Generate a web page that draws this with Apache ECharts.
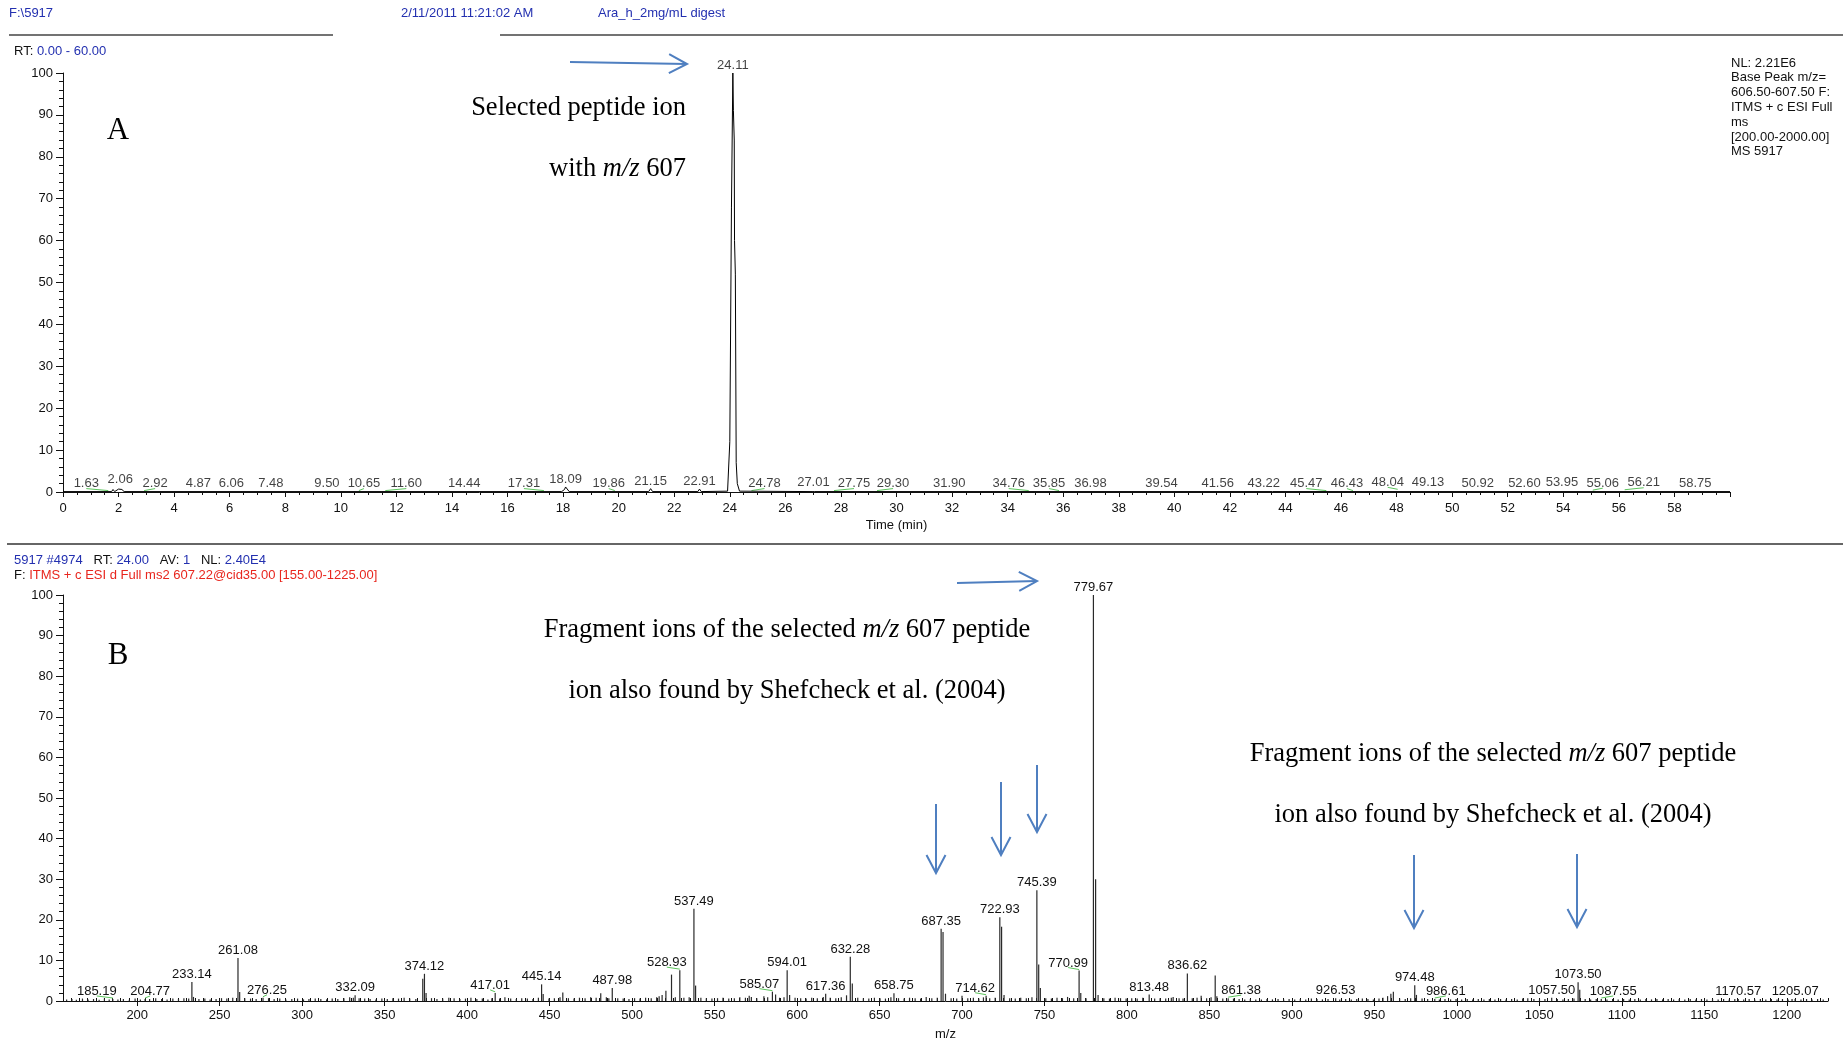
<!DOCTYPE html>
<html>
<head>
<meta charset="utf-8">
<title>Ara h 2 digest – chromatogram and MS2 spectrum</title>
<script src="https://cdn.jsdelivr.net/npm/echarts@6/dist/echarts.min.js"></script>
<style>
  html, body { margin: 0; padding: 0; background: #fff; }
  #c { width: 1843px; height: 1043px; }
</style>
</head>
<body>
<div id="c"></div>
<script>
// ---------- Panel A: base peak chromatogram (m/z 606.50-607.50) ----------
const rtTrace  = [0, 1.75, 1.80, 1.86, 1.92, 2.00, 2.06, 2.12, 2.20, 17.95, 18.05, 18.09, 18.13, 18.22,
                  21.08, 21.15, 21.22, 22.85, 22.91, 22.97, 23.92, 23.96, 24.00, 24.06, 24.11, 24.13,
                  24.16, 24.17, 24.20, 24.23, 24.27, 24.35, 26.96, 27.01, 27.06, 60];
const intTrace = [0.1, 0.1, 0.6, 0.1, 0.4, 0.7, 0.9, 0.6, 0.1, 0.1, 0.6, 1.2, 0.8, 0.1,
                  0.1, 0.8, 0.1, 0.1, 0.7, 0.1, 0.2, 0.6, 12, 68, 100, 91,
                  84, 60, 52, 7, 2, 0.2, 0.1, 0.4, 0.1, 0.1];

// retention times printed above the trace
const rtLabels = [1.63, 2.06, 2.92, 4.87, 6.06, 7.48, 9.50, 10.65, 11.60, 14.44, 17.31, 18.09, 19.86,
                  21.15, 22.91, 24.11, 24.78, 27.01, 27.75, 29.30, 31.90, 34.76, 35.85, 36.98, 39.54,
                  41.56, 43.22, 45.47, 46.43, 48.04, 49.13, 50.92, 52.60, 53.95, 55.06, 56.21, 58.75];
const rtLabelInt = [0.1, 1.1, 0.1, 0.1, 0.1, 0.1, 0.1, 0.1, 0.1, 0.1, 0.1, 1.2, 0.1,
                    0.6, 0.5, 100, 0.1, 0.3, 0.1, 0.1, 0.1, 0.1, 0.1, 0.1, 0.1,
                    0.1, 0.1, 0.1, 0.1, 0.4, 0.3, 0.1, 0.2, 0.4, 0.2, 0.3, 0.1];

// ---------- Panel B: MS2 spectrum of m/z 607.22 ----------
const mzLabeled  = [185.19, 204.77, 233.14, 261.08, 276.25, 332.09, 374.12, 417.01, 445.14, 487.98,
                    528.93, 537.49, 585.07, 594.01, 617.36, 632.28, 658.75, 687.35, 714.62, 722.93,
                    745.39, 770.99, 779.67, 813.48, 836.62, 861.38, 926.53, 974.48, 986.61, 1057.50,
                    1073.50, 1087.55, 1170.57, 1205.07];
const intLabeled = [0.5, 0.5, 4.7, 10.6, 0.8, 1.4, 6.7, 2.0, 4.1, 3.2,
                    7.6, 22.7, 2.3, 7.6, 1.8, 10.9, 1.9, 17.8, 1.3, 20.6,
                    27.3, 7.5, 100, 1.6, 6.8, 0.7, 0.7, 3.9, 0.5, 0.8,
                    4.6, 0.5, 0.5, 0.5];

// unlabelled fragment and noise sticks [m/z, relative abundance]
const minorPeaks = [
  [157.2,0.4],[160.4,0.5],[163.1,0.3],[166.8,0.6],[170.2,0.4],[173.5,0.5],[176.9,0.3],[180.1,0.6],[183.0,0.4],
  [188.3,0.4],[191.6,0.5],[195.2,0.3],[198.7,0.6],[201.9,0.4],[207.5,0.5],[211.2,0.7],[214.8,0.5],[218.1,0.4],
  [221.6,0.6],[225.0,0.5],[228.3,0.7],[231.2,0.6],[234.1,1.0],[237.4,0.5],[241.0,0.6],[244.2,0.4],[247.8,0.5],
  [251.1,0.7],[254.3,0.6],[257.9,0.8],[262.1,2.2],[265.2,0.7],[268.7,0.6],[272.1,0.5],[279.6,0.7],[283.0,0.5],
  [286.4,0.6],[290.1,0.4],[293.7,0.5],[297.2,0.6],[300.8,0.4],[304.1,0.5],[307.9,0.6],[311.3,0.5],[314.8,0.4],
  [318.2,0.6],[321.6,0.5],[325.3,0.7],[328.8,0.9],[331.0,0.8],[334.5,0.7],[337.9,0.6],[341.2,0.5],[344.7,0.4],
  [348.3,0.6],[351.6,0.5],[355.0,0.7],[358.4,0.6],[361.8,0.8],[365.2,0.6],[368.9,0.5],[373.1,5.5],[375.1,2.0],
  [378.4,0.7],[381.7,0.5],[385.2,0.6],[388.9,0.8],[392.1,0.7],[395.6,0.5],[399.0,0.6],[402.3,0.8],[405.9,0.5],
  [409.2,0.6],[412.6,0.4],[415.0,0.7],[419.7,0.6],[422.9,0.9],[426.4,0.6],[429.8,0.5],[433.1,0.7],[436.5,0.6],
  [439.9,0.5],[443.2,0.8],[446.1,1.7],[449.6,0.6],[452.9,0.7],[456.3,0.9],[458.0,2.1],[461.4,0.7],[464.8,0.6],
  [468.1,0.8],[471.5,0.7],[474.9,0.9],[478.2,0.8],[481.0,1.9],[484.4,0.9],[485.9,0.7],[491.3,0.7],[494.6,0.6],
  [498.1,0.5],[501.5,0.7],[504.8,0.6],[508.2,0.8],[511.6,0.7],[514.9,0.9],[516.4,1.2],[518.2,1.5],[520.5,2.5],
  [523.9,6.5],[526.2,0.9],[531.4,0.8],[534.6,0.9],[538.5,3.8],[541.7,0.8],[545.0,0.7],[548.4,0.6],[551.8,0.7],
  [555.1,0.8],[558.6,0.6],[562.0,0.7],[565.3,0.9],[568.7,0.8],[571.0,1.3],[572.3,1.0],[575.6,0.7],[579.9,1.2],
  [582.2,0.9],[587.0,1.6],[589.4,0.8],[592.1,0.9],[595.5,1.5],[598.8,0.8],[602.2,0.7],[605.5,0.6],[608.9,0.8],
  [612.3,0.7],[615.9,1.0],[620.1,0.8],[623.5,0.7],[626.8,0.9],[630.0,1.4],[633.5,4.3],[636.8,0.8],[640.2,0.7],
  [643.5,0.6],[646.9,0.8],[650.3,0.7],[653.6,0.6],[656.9,0.9],[661.5,0.7],[664.9,0.6],[668.2,0.8],[671.6,0.7],
  [674.9,0.6],[678.3,1.0],[681.7,0.7],[685.0,0.8],[688.5,17.0],[690.0,1.8],[693.4,0.7],[696.8,0.6],[700.0,1.3],
  [703.5,0.7],[706.9,0.8],[710.2,0.6],[713.0,0.9],[716.8,0.7],[720.1,0.8],[724.0,18.3],[725.5,1.5],[728.9,0.7],
  [732.3,0.6],[735.6,0.8],[739.0,0.7],[742.4,0.9],[746.5,9.0],[747.5,3.2],[750.8,0.7],[754.2,0.6],[757.6,0.8],
  [760.9,0.7],[764.0,1.0],[767.7,0.7],[772.0,2.0],[775.2,0.7],[781.0,30.0],[782.5,1.5],[786.0,0.7],[789.4,0.6],
  [792.8,0.8],[796.1,0.7],[799.5,0.6],[802.9,0.7],[806.2,0.6],[809.6,0.8],[816.8,0.6],[820.1,0.7],[823.5,0.6],
  [826.9,0.8],[828.0,1.0],[831.6,0.7],[834.0,0.6],[839.6,0.7],[842.5,0.8],[845.0,1.3],[848.3,0.7],[851.0,0.9],
  [853.5,6.3],[854.5,1.2],[858.1,0.6],[864.6,0.6],[868.0,0.5],[871.4,0.4],[874.8,0.5],[878.1,0.4],[881.5,0.4],
  [884.9,0.5],[888.2,0.4],[891.6,0.5],[895.0,0.4],[898.3,0.5],[901.7,0.4],[905.1,0.5],[908.4,0.4],[911.8,0.6],
  [915.2,0.5],[918.5,0.4],[921.9,0.5],[929.0,0.4],[932.6,0.5],[936.0,0.4],[939.3,0.5],[942.7,0.6],[946.1,0.5],
  [949.4,0.4],[952.8,0.6],[955.2,0.8],[958.0,1.2],[960.0,1.8],[961.5,2.3],[965.3,0.6],[968.7,0.5],[972.0,0.7],
  [975.5,1.5],[978.9,0.6],[982.3,0.5],[989.4,0.4],[992.8,0.5],[996.2,0.4],[999.5,0.5],[1002.9,0.4],[1006.3,0.5],
  [1009.6,0.4],[1013.0,0.5],[1016.4,0.4],[1019.7,0.5],[1023.1,0.4],[1026.5,0.5],[1029.8,0.4],[1033.2,0.5],
  [1036.6,0.4],[1039.9,0.6],[1043.0,0.7],[1046.7,0.5],[1050.1,0.4],[1053.4,0.5],[1060.9,0.5],[1064.3,0.4],
  [1067.6,0.5],[1071.0,0.6],[1074.5,2.8],[1077.8,0.5],[1081.1,0.4],[1084.5,0.5],[1091.0,0.4],[1094.4,0.5],
  [1097.8,0.4],[1101.1,0.5],[1104.5,0.4],[1107.9,0.5],[1111.2,0.4],[1114.6,0.5],[1118.0,0.4],[1121.3,0.5],
  [1124.7,0.4],[1128.1,0.5],[1131.4,0.4],[1134.8,0.5],[1138.2,0.4],[1141.5,0.5],[1144.9,0.4],[1148.3,0.5],
  [1151.6,0.4],[1155.0,0.5],[1158.4,0.4],[1161.7,0.5],[1165.1,0.4],[1168.5,0.5],[1173.9,0.4],[1177.2,0.5],
  [1180.6,0.4],[1184.0,0.5],[1187.3,0.4],[1190.7,0.5],[1194.1,0.4],[1197.4,0.5],[1200.8,0.4],[1203.2,0.5],
  [1208.6,0.4],[1212.0,0.5],[1215.3,0.4],[1218.7,0.5],[1222.1,0.4]
];

// axis ticks
const mzTicks = [200, 250, 300, 350, 400, 450, 500, 550, 600, 650, 700, 750, 800, 850, 900, 950,
                 1000, 1050, 1100, 1150, 1200];
const mzMinorTicks = [];
for (let v = 160; v <= 1225; v += 5) mzMinorTicks.push(v);

// ---------- label placement (pixel nudges for crowded labels) ----------
const rtNudge = {1.63: -22, 2.92: 11, 10.65: 5, 11.60: 21, 17.31: -20, 19.86: -6, 24.78: 13, 27.75: 20,
                 29.30: 16, 34.76: -20, 35.85: -10, 45.47: -20, 46.43: -6, 48.04: -10, 55.06: 10, 56.21: 19};
const mzNudge = {185.19: -16, 204.77: 5, 276.25: 4, 417.01: -5, 528.93: -13, 585.07: -13, 714.62: -11,
                 770.99: -11, 861.38: 13, 986.61: 11, 1087.55: 12};

// ---------- styles ----------
const SANS = '"Liberation Sans", Arial, sans-serif';
const SERIF = '"Liberation Serif", "Times New Roman", serif';
const BLUE = '#2330b0';
const RED = '#e8261e';
const ARROW = '#4f7fc0';
const GREEN = '#5cc45c';
const INK = '#111';
const SMALL = 13;

function nudgeOf(map, v) { return map[v.toFixed(2)] !== undefined ? map[v.toFixed(2)] : (map[v] || 0); }

const labelStyle = { show: true, position: 'top', distance: 1, color: INK, fontSize: SMALL, fontFamily: SANS };

// chromatogram labels
const rtLabelData = rtLabels.map((t, i) => ({
  value: [t, rtLabelInt[i]],
  label: { offset: [nudgeOf(rtNudge, t), 0] }
}));
const rtConnectors = rtLabels
  .map((t, i) => [t, rtLabelInt[i], nudgeOf(rtNudge, t)])
  .filter(d => Math.abs(d[2]) >= 5);

// spectrum sticks
const stickData = mzLabeled.map((m, i) => ({
  value: [m, intLabeled[i]],
  label: { show: true, offset: [nudgeOf(mzNudge, m), 0] }
})).concat(minorPeaks.map(p => ({ value: p })));
const mzConnectors = mzLabeled
  .map((m, i) => [m, intLabeled[i], nudgeOf(mzNudge, m)])
  .filter(d => Math.abs(d[2]) >= 4);

function connectorSeries(xi, yi, items) {
  return {
    type: 'custom', xAxisIndex: xi, yAxisIndex: yi, silent: true, z: 1,
    data: items,
    encode: { x: 0, y: 1 },
    renderItem(params, api) {
      const p = api.coord([api.value(0), api.value(1)]);
      const dx = api.value(2);
      return {
        type: 'line',
        shape: { x1: p[0], y1: p[1] - 1, x2: p[0] + dx, y2: p[1] - 3 },
        style: { stroke: GREEN, lineWidth: 1 }
      };
    }
  };
}

function yAxisCfg(gi) {
  return {
    type: 'value', gridIndex: gi, min: 0, max: 100, interval: 10,
    axisLine: { show: true, lineStyle: { color: INK, width: 1 } },
    axisTick: { show: true, length: 7, lineStyle: { color: INK } },
    minorTick: { show: true, splitNumber: 5, length: 4, lineStyle: { color: INK } },
    axisLabel: { color: INK, fontSize: SMALL, fontFamily: SANS, margin: 10 },
    splitLine: { show: false }
  };
}

// ---------- annotations ----------
function arrow(x1, y1, x2, y2) {
  const a = Math.atan2(y2 - y1, x2 - x1), L = 18, W = 9.5;
  const bx = x2 - L * Math.cos(a), by = y2 - L * Math.sin(a);
  const nx = -Math.sin(a) * W, ny = Math.cos(a) * W;
  return [
    { type: 'line', shape: { x1, y1, x2, y2 }, style: { stroke: ARROW, lineWidth: 2 } },
    { type: 'polyline', shape: { points: [[bx + nx, by + ny], [x2, y2], [bx - nx, by - ny]] },
      style: { stroke: ARROW, lineWidth: 2, fill: null } }
  ];
}
function txt(x, y, text, opts) {
  return { type: 'text', x, y, silent: true,
    style: Object.assign({ text, fill: INK, fontSize: SMALL, fontFamily: SANS,
                           align: 'left', verticalAlign: 'middle' }, opts || {}) };
}
const serifRich = {
  n: { fontSize: 26.5, fontFamily: SERIF, fill: '#000' },
  i: { fontSize: 26.5, fontFamily: SERIF, fontStyle: 'italic', fill: '#000' }
};
function serifLine(x, y, text, align) {
  return txt(x, y, text, { rich: serifRich, align: align || 'center', fontSize: 26.5, fontFamily: SERIF });
}
const smallRich = {
  b: { fill: BLUE, fontSize: SMALL, fontFamily: SANS },
  k: { fill: INK, fontSize: SMALL, fontFamily: SANS },
  r: { fill: RED, fontSize: SMALL, fontFamily: SANS }
};
const infoLines = ['NL: 2.21E6', 'Base Peak m/z=', '606.50-607.50 F:', 'ITMS + c ESI Full', 'ms',
                   '[200.00-2000.00]', 'MS 5917'];

const graphics = [
  txt(9, 13, 'F:\\5917', { fill: BLUE }),
  txt(401, 13, '2/11/2011 11:21:02 AM', { fill: BLUE }),
  txt(598, 13, 'Ara_h_2mg/mL digest', { fill: BLUE }),
  { type: 'line', shape: { x1: 9, y1: 35, x2: 333, y2: 35 }, style: { stroke: '#444', lineWidth: 1.5 } },
  { type: 'line', shape: { x1: 500, y1: 35, x2: 1843, y2: 35 }, style: { stroke: '#444', lineWidth: 1.5 } },
  txt(14, 51, '{k|RT:} {b|0.00 - 60.00}', { rich: smallRich }),
  { type: 'line', shape: { x1: 7, y1: 544, x2: 1843, y2: 544 }, style: { stroke: '#666', lineWidth: 2 } },
  txt(14, 560, '{b|5917 #4974}   {k|RT:} {b|24.00}   {k|AV:} {b|1}   {k|NL:} {b|2.40E4}', { rich: smallRich }),
  txt(14, 575, '{k|F:} {r|ITMS + c ESI d Full ms2 607.22@cid35.00 [155.00-1225.00]}', { rich: smallRich }),
  txt(118, 131, 'A', { fontSize: 31, fontFamily: SERIF, align: 'center', fill: '#000' }),
  txt(118, 656, 'B', { fontSize: 31, fontFamily: SERIF, align: 'center', fill: '#000' }),
  serifLine(686, 108, '{n|Selected peptide ion}', 'right'),
  serifLine(686, 169, '{n|with }{i|m/z}{n| 607}', 'right'),
  serifLine(787, 630, '{n|Fragment ions of the selected }{i|m/z}{n| 607 peptide}'),
  serifLine(787, 691, '{n|ion also found by Shefcheck et al. (2004)}'),
  serifLine(1493, 754, '{n|Fragment ions of the selected }{i|m/z}{n| 607 peptide}'),
  serifLine(1493, 815, '{n|ion also found by Shefcheck et al. (2004)}')
].concat(
  infoLines.map((s, i) => txt(1731, 63 + i * 14.8, s)),
  arrow(570, 62, 687, 64),
  arrow(957, 583, 1037, 581),
  arrow(936, 804, 936, 873),
  arrow(1001, 782, 1001, 855),
  arrow(1037, 765, 1037, 832),
  arrow(1414, 855, 1414, 928),
  arrow(1577, 854, 1577, 927)
);

const option = {
  animation: false,
  backgroundColor: '#fff',
  textStyle: { fontFamily: SANS },
  grid: [
    { left: 63, right: 113, top: 73, height: 419, containLabel: false },
    { left: 63, right: 15, top: 595, height: 406, containLabel: false }
  ],
  xAxis: [
    {
      type: 'value', gridIndex: 0, min: 0, max: 60, interval: 2,
      name: 'Time (min)', nameLocation: 'middle', nameGap: 27,
      nameTextStyle: { color: INK, fontSize: SMALL, fontFamily: SANS },
      axisLine: { show: true, onZero: false, lineStyle: { color: INK, width: 1 } },
      axisTick: { show: true, length: 5, lineStyle: { color: INK } },
      minorTick: { show: true, splitNumber: 4, length: 3, lineStyle: { color: INK } },
      axisLabel: { color: INK, fontSize: SMALL, fontFamily: SANS, margin: 10,
                   formatter: v => (v >= 60 ? '' : String(v)) },
      splitLine: { show: false }
    },
    {
      type: 'value', gridIndex: 1, min: 155, max: 1225,
      name: 'm/z', nameLocation: 'middle', nameGap: 27,
      nameTextStyle: { color: INK, fontSize: SMALL, fontFamily: SANS },
      axisLine: { show: true, onZero: false, lineStyle: { color: INK, width: 1 } },
      axisTick: { show: true, length: 5, customValues: mzTicks, lineStyle: { color: INK } },
      axisLabel: { color: INK, fontSize: SMALL, fontFamily: SANS, margin: 8, customValues: mzTicks,
                   formatter: v => String(v) },
      splitLine: { show: false }
    },
    {
      type: 'value', gridIndex: 1, min: 155, max: 1225,
      axisLine: { show: false },
      axisTick: { show: true, length: 3, customValues: mzMinorTicks, lineStyle: { color: INK } },
      axisLabel: { show: false },
      splitLine: { show: false }
    }
  ],
  yAxis: [yAxisCfg(0), yAxisCfg(1)],
  series: [
    {
      type: 'line', xAxisIndex: 0, yAxisIndex: 0, silent: true,
      data: rtTrace.map((t, i) => [t, intTrace[i]]),
      showSymbol: false, symbol: 'none',
      lineStyle: { color: '#000', width: 1 }, z: 3
    },
    {
      type: 'scatter', xAxisIndex: 0, yAxisIndex: 0, silent: true,
      data: rtLabelData, symbolSize: 1,
      itemStyle: { color: 'rgba(0,0,0,0)' },
      label: Object.assign({}, labelStyle, { formatter: p => p.value[0].toFixed(2) }), z: 4
    },
    connectorSeries(0, 0, rtConnectors),
    {
      type: 'bar', xAxisIndex: 1, yAxisIndex: 1, silent: true, large: false,
      data: stickData, barWidth: 1.2,
      itemStyle: { color: '#2a2a2a' },
      label: Object.assign({}, labelStyle, { show: false, formatter: p => p.value[0].toFixed(2) }), z: 3
    },
    connectorSeries(1, 1, mzConnectors)
  ],
  graphic: graphics
};

const chart = echarts.init(document.getElementById('c'), null, { renderer: 'canvas', width: 1843, height: 1043 });
chart.setOption(option);
</script>
</body>
</html>
